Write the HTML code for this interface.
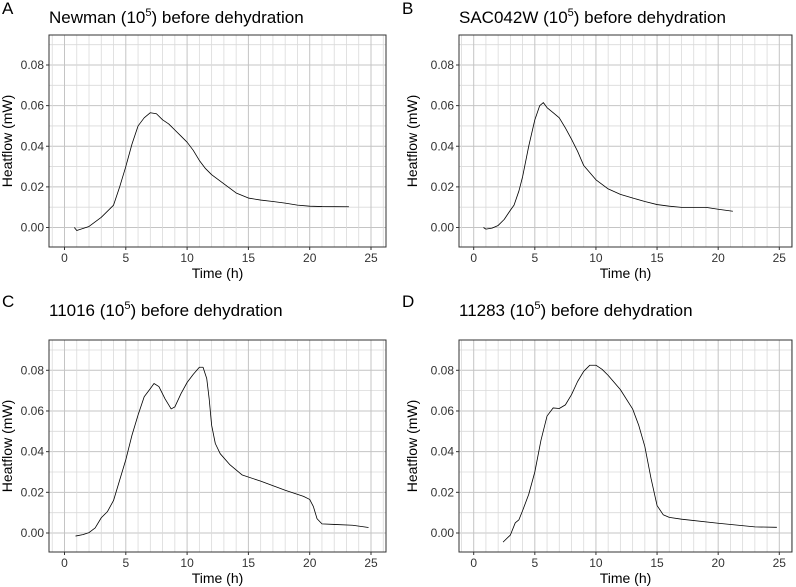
<!DOCTYPE html>
<html><head><meta charset="utf-8"><style>
body{margin:0;background:#fff;}
svg{display:block;font-family:"Liberation Sans",sans-serif;}
</style></head><body>
<svg id="fig" width="796" height="587" viewBox="0 0 796 587"></svg>
<script>
const xTicks=[0,5,10,15,20,25];
const yTicks=[0,0.02,0.04,0.06,0.08];
const yTickLabels=["0.00","0.02","0.04","0.06","0.08"];
const titlesA=["Newman","SAC042W","11016","11283"];
const letters=["A","B","C","D"];
const tA=[0.8,1,2,3,4,4.5,5,5.5,6,6.5,7,7.5,8,8.5,9,9.5,10,10.5,11,11.5,12,13,14,15,16,17,18,19,20,21,23.2];
const hA=[0,-0.0015,0.0005,0.005,0.011,0.02,0.03,0.041,0.05,0.054,0.0565,0.056,0.053,0.051,0.048,0.045,0.042,0.038,0.033,0.029,0.026,0.0215,0.017,0.0145,0.0135,0.0128,0.012,0.011,0.0105,0.0103,0.0102];
const tB=[0.8,1,1.5,2,2.5,3,3.3,3.7,4,4.5,5,5.4,5.7,6,6.5,7,7.5,8,8.5,9,9.5,10,11,12,13,14,15,16,17,18,19,20,21.2];
const hB=[0,-0.0008,-0.0003,0.001,0.004,0.0085,0.011,0.018,0.025,0.04,0.053,0.06,0.0615,0.059,0.0565,0.054,0.049,0.0435,0.0375,0.0305,0.027,0.0235,0.019,0.0163,0.0145,0.0128,0.0113,0.0105,0.0099,0.0099,0.0099,0.009,0.008];
const tC=[0.9,1.5,2,2.5,3,3.5,4,4.5,5,5.5,6,6.5,7,7.3,7.7,8.2,8.7,9,9.5,10,10.5,11,11.3,11.6,11.8,12,12.3,12.7,13.5,14.5,16,18,19.5,20,20.3,20.6,21,22,23.5,24.8];
const hC=[-0.0015,-0.0008,0.0002,0.0025,0.0075,0.0105,0.016,0.026,0.036,0.048,0.058,0.067,0.071,0.0735,0.072,0.066,0.061,0.062,0.0685,0.074,0.078,0.0815,0.0815,0.076,0.066,0.053,0.044,0.039,0.0335,0.0285,0.0255,0.021,0.018,0.0165,0.013,0.007,0.0045,0.0042,0.0038,0.0027];
const tD=[2.4,3,3.4,3.7,4,4.5,5,5.5,6,6.5,7,7.5,8,8.5,9,9.5,10,10.5,11,12,13,13.5,14,14.5,15,15.5,16,17,20,23,24.8];
const hD=[-0.0045,-0.001,0.005,0.0065,0.011,0.019,0.03,0.0455,0.0575,0.0615,0.0612,0.063,0.068,0.0745,0.0795,0.0825,0.0825,0.0805,0.0775,0.0705,0.061,0.053,0.0425,0.027,0.0135,0.009,0.0077,0.0068,0.0048,0.003,0.0028];
const series=[[tA,hA],[tB,hB],[tC,hC],[tD,hD]];
const NS="http://www.w3.org/2000/svg";
const svg=document.getElementById('fig');
function mk(tag,attrs,parent){const e=document.createElementNS(NS,tag);for(const k in attrs)e.setAttribute(k,attrs[k]);(parent||svg).appendChild(e);return e;}
const panels=[
 {L:49,R:386,T:35,B:247,x0:64.5,x25:371,y0:227.5,y8:65,ox:0,oy:0},
 {L:459,R:792,T:35,B:247,x0:473.7,x25:779.3,y0:227.5,y8:65,ox:400,oy:0},
 {L:49,R:386,T:340,B:552,x0:64.5,x25:371,y0:533,y8:370.3,ox:0,oy:293},
 {L:459,R:792,T:340,B:552,x0:473.7,x25:779.3,y0:533,y8:370.3,ox:400,oy:293}];
panels.forEach((p,i)=>{
 const g=mk('g',{});
 
 
 const xs=v=>p.x0+(p.x25-p.x0)*v/25;
 const ys=v=>p.y0+(p.y8-p.y0)*v/0.08;
 const lt=mk('text',{x:p.ox+2,y:p.oy+14,'font-size':17,fill:'#000'},g);lt.textContent=letters[i];
 
 const tt=mk('text',{x:p.L,y:p.oy+23,'font-size':17,fill:'#000'},g);
 
 tt.appendChild(document.createTextNode(titlesA[i]+' (10'));
 const sup=mk('tspan',{'font-size':11,dy:-7},tt);sup.textContent='5';
 const rest=mk('tspan',{dy:7},tt);rest.textContent=') before dehydration';
 const gr=mk('g',{},g);
 for(let v=-0.01;v<=0.0951;v+=0.01){const yy=ys(v);if(yy<p.T||yy>p.B)continue;
  const major=Math.abs(Math.round(v*100)%2)===0;
  mk('line',{x1:p.L,x2:p.R,y1:yy,y2:yy,stroke:major?'#c4c4c4':'#dadada','stroke-width':major?1:0.8},gr);}
 for(let v=-1;v<=26;v++){const xx=xs(v);if(xx<p.L||xx>p.R)continue;
  const major=v%5===0;
  mk('line',{x1:xx,x2:xx,y1:p.T,y2:p.B,stroke:major?'#c4c4c4':'#dadada','stroke-width':major?1:0.8},gr);}
 const [ts,hs]=series[i];
 const d=ts.map((t,k)=>(k?'L':'M')+xs(t).toFixed(2)+','+ys(hs[k]).toFixed(2)).join('');
 const path=mk('path',{d:d,fill:'none',stroke:'#000','stroke-width':0.8,'stroke-linejoin':'round'},g);
 
 mk('rect',{x:p.L,y:p.T,width:p.R-p.L,height:p.B-p.T,fill:'none',stroke:'#333','stroke-width':1},g);
 xTicks.forEach(v=>{const xx=xs(v);mk('line',{x1:xx,x2:xx,y1:p.B,y2:p.B+3,stroke:'#333'},g);
  const t=mk('text',{x:xx,y:p.B+15,'font-size':12,fill:'#333','text-anchor':'middle'},g);t.textContent=v;
  });
 yTicks.forEach((v,k)=>{const yy=ys(v);mk('line',{x1:p.L-3,x2:p.L,y1:yy,y2:yy,stroke:'#333'},g);
  const t=mk('text',{x:p.L-5,y:yy+4,'font-size':12,fill:'#333','text-anchor':'end'},g);t.textContent=yTickLabels[k];
  });
 const xt=mk('text',{x:(p.L+p.R)/2,y:p.B+31,'font-size':14,fill:'#000','text-anchor':'middle'},g);xt.textContent='Time (h)';
 
 const cy=(p.T+p.B)/2,cx=p.ox+(i%2?17:12);
 const yt=mk('text',{x:cx,y:cy,'font-size':14,fill:'#000','text-anchor':'middle',transform:`rotate(-90 ${cx} ${cy})`},g);yt.textContent='Heatflow (mW)';
 
});
</script>
</body></html>
